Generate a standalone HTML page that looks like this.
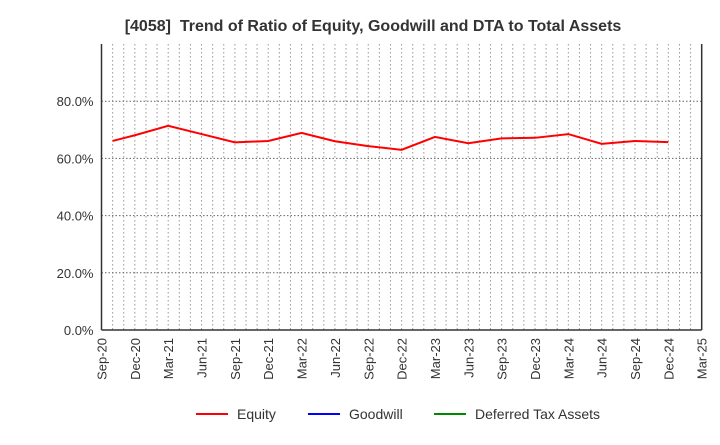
<!DOCTYPE html>
<html><head><meta charset="utf-8"><style>
body{margin:0;background:#fff;font-family:"Liberation Sans",sans-serif}
</style></head><body>
<svg width="720" height="440" xmlns="http://www.w3.org/2000/svg">
<text x="373" y="31" text-anchor="middle" font-size="16" font-weight="bold" fill="#333" xml:space="preserve">[4058]  Trend of Ratio of Equity, Goodwill and DTA to Total Assets</text>
<g id="grid"></g>
<g id="axes"></g>
<g id="series"></g>
<g font-size="14" fill="#333">
<g><line x1="196" y1="414" x2="228" y2="414" stroke="#f00" stroke-width="2"/><text x="237" y="419">Equity</text></g>
<g><line x1="308" y1="414" x2="340" y2="414" stroke="#00f" stroke-width="2"/><text x="349" y="419">Goodwill</text></g>
<g><line x1="434" y1="414" x2="466" y2="414" stroke="#080" stroke-width="2"/><text x="475" y="419">Deferred Tax Assets</text></g>
</g>
</svg>
<script>
const xTickLabels=["Sep-20","Dec-20","Mar-21","Jun-21","Sep-21","Dec-21","Mar-22","Jun-22","Sep-22","Dec-22","Mar-23","Jun-23","Sep-23","Dec-23","Mar-24","Jun-24","Sep-24","Dec-24","Mar-25"];
const yTicks=[0,20,40,60,80];
const equityMonths=[1,3,6,9,12,15,18,21,24,27,30,33,36,39,42,45,48,51];
const equityValues=[66.1,68.1,71.4,68.5,65.6,66.1,68.9,66.0,64.3,63.0,67.5,65.3,67.0,67.2,68.5,65.1,66.1,65.7];
const NS="http://www.w3.org/2000/svg";
const L=101.5,R=701.7,T=44,B=330,MONTHS=54,YMAX=100;
const xs=m=>L+m*(R-L)/MONTHS, ys=v=>B-v*(B-T)/YMAX;
function mk(p,t,a){const e=document.createElementNS(NS,t);for(const k in a)e.setAttribute(k,a[k]);p.appendChild(e);return e;}
const grid=document.getElementById('grid'),axes=document.getElementById('axes'),ser=document.getElementById('series');
for(let m=1;m<MONTHS;m++){const l=mk(grid,'line',{x1:xs(m),x2:xs(m),y1:T,y2:B,stroke:'#999','stroke-dasharray':'1.5,2.5'});

}
yTicks.forEach(v=>{if(v>0){const l=mk(grid,'line',{x1:L,x2:R,y1:ys(v),y2:ys(v),stroke:'#666','stroke-dasharray':'1.5,2'});

}
const t=mk(axes,'text',{x:L-8,y:ys(v)+5,'text-anchor':'end','font-size':'13',fill:'#333'});t.textContent=v.toFixed(1)+'%';

});
mk(axes,'line',{x1:L,x2:L,y1:T,y2:B,stroke:'#333','stroke-width':1.5});
mk(axes,'line',{x1:R,x2:R,y1:T,y2:B,stroke:'#333','stroke-width':1.5});
mk(axes,'line',{x1:L,x2:R,y1:B,y2:B,stroke:'#333','stroke-width':1.5});
xTickLabels.forEach((s,i)=>{const x=xs(i*3);const t=mk(axes,'text',{transform:`translate(${x+5},${B+8}) rotate(-90)`,'text-anchor':'end','font-size':'13',fill:'#333'});t.textContent=s;

});
const p=mk(ser,'polyline',{points:equityMonths.map((m,i)=>xs(m)+','+ys(equityValues[i])).join(' '),fill:'none',stroke:'#f00','stroke-width':2});


</script>
</body></html>
